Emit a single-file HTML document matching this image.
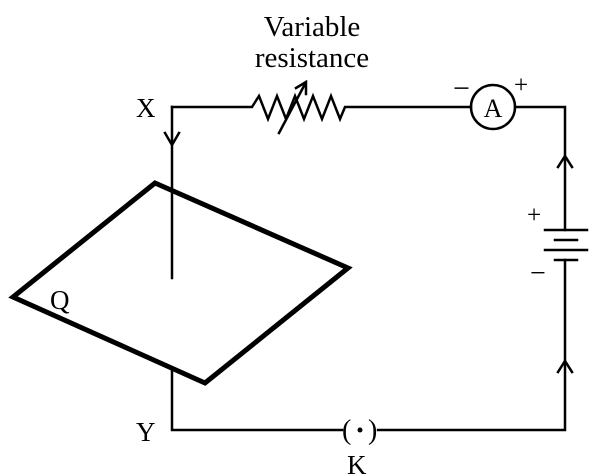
<!DOCTYPE html>
<html><head><style>body{margin:0;background:#fff}</style></head><body>
<svg width="613" height="476" viewBox="0 0 613 476" xmlns="http://www.w3.org/2000/svg" style="display:block">
<g fill="none" stroke="#000" stroke-width="2.5" stroke-linecap="square">
<path d="M172,107 H252 L259,96 L268,119 L277,96 L286,119 L295,96 L304,119 L313,96 L322,119 L331,96 L340,119 L345,107 H471"/>
<path d="M515,107 H565 V230"/>
<path d="M565,260 V430 H378"/>
<path d="M342,430 H172 V368"/>
<path d="M172,107 V278"/>
<circle cx="493" cy="107" r="22"/>
<path d="M279,133 L305,84"/>
<path d="M296,88 L306,82 L306,94" />
<path d="M165,133 L172,145 L179,133"/>
<path d="M558,167 L565,156 L572,167"/>
<path d="M558,372 L565,361 L572,372"/>
<path d="M545,230 H587 M555,240 H577 M545,250 H587 M555,260 H577"/>
</g>
<polygon points="155,183 348,268 205,383 13,297" fill="none" stroke="#000" stroke-width="5" stroke-linejoin="miter"/>
<circle cx="360" cy="430" r="2.5" fill="#000"/>
<g font-family="'Liberation Serif',serif" fill="#000">
<text x="312" y="36" font-size="29" text-anchor="middle">Variable</text>
<text x="312" y="67" font-size="29" text-anchor="middle">resistance</text>
<text x="136" y="117" font-size="27">X</text>
<text x="493" y="117" font-size="26" text-anchor="middle">A</text>
<text x="453" y="98" font-size="30">−</text>
<text x="514" y="93" font-size="25">+</text>
<text x="527" y="223" font-size="25">+</text>
<text x="530" y="282" font-size="28">−</text>
<text x="50" y="309" font-size="27">Q</text>
<text x="136" y="441" font-size="27">Y</text>
<text x="342" y="439" font-size="28">(</text>
<text x="368" y="439" font-size="28">)</text>
<text x="347" y="474" font-size="27">K</text>
</g>
</svg>
</body></html>
